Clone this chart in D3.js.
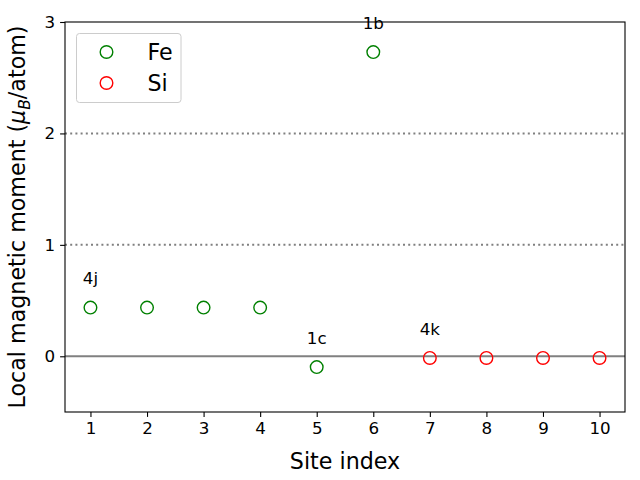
<!DOCTYPE html>
<html>
<head>
<meta charset="utf-8">
<script src="https://cdn.jsdelivr.net/npm/d3@7"></script>
<style>
body{margin:0;background:#fff;}
text{font-family:"DejaVu Sans",sans-serif;}
</style>
</head>
<body>
<div id="chart"></div>
<script>
// data
var feSites = [1, 2, 3, 4, 5, 6];
var feMoments = [0.437, 0.437, 0.437, 0.437, -0.097, 2.73];
var siSites = [7, 8, 9, 10];
var siMoments = [-0.015, -0.015, -0.015, -0.015];
var labelText = ["4j", "1c", "1b", "4k"];
var labelSite = [1, 5, 6, 7];
var labelValue = [0.437, -0.097, 2.73, -0.015];
var xTicks = [1, 2, 3, 4, 5, 6, 7, 8, 9, 10];
var yTicks = [0, 1, 2, 3];
var refLines = [1, 2];

var W = 640, H = 480;
var margin = {top: 22, right: 15, bottom: 68, left: 65};
var width = W - margin.left - margin.right,
    height = H - margin.top - margin.bottom;

var x = d3.scaleLinear().domain([0.55, 10.45]).range([0, width]);
var y = d3.scaleLinear().domain([-0.5, 3]).range([height, 0]);

var svg = d3.select("#chart").append("svg")
    .attr("width", W).attr("height", H)
  .append("g")
    .attr("transform", "translate(" + margin.left + "," + margin.top + ")");

// dotted reference lines
svg.selectAll(".ref").data(refLines).enter().append("line")
    .attr("x1", 0).attr("x2", width)
    .attr("y1", function(d){ return y(d); })
    .attr("y2", function(d){ return y(d); })
    .attr("stroke", "#808080").attr("stroke-width", 2)
    .attr("stroke-dasharray", "2,3.2");

// zero line
svg.append("line")
    .attr("x1", 0).attr("x2", width)
    .attr("y1", y(0)).attr("y2", y(0))
    .attr("stroke", "#808080").attr("stroke-width", 2);

// points
var fe = feSites.map(function(s, i){ return {s: s, v: feMoments[i]}; });
var si = siSites.map(function(s, i){ return {s: s, v: siMoments[i]}; });

svg.selectAll(".fe").data(fe).enter().append("circle")
    .attr("class", "fe")
    .attr("cx", function(d){ return x(d.s); })
    .attr("cy", function(d){ return y(d.v); })
    .attr("r", 6.3)
    .attr("fill", "none").attr("stroke", "green").attr("stroke-width", 1.4);

svg.selectAll(".si").data(si).enter().append("circle")
    .attr("class", "si")
    .attr("cx", function(d){ return x(d.s); })
    .attr("cy", function(d){ return y(d.v); })
    .attr("r", 6.3)
    .attr("fill", "none").attr("stroke", "red").attr("stroke-width", 1.4);

// site labels
svg.selectAll(".lab").data(labelText).enter().append("text")
    .attr("x", function(d, i){ return x(labelSite[i]); })
    .attr("y", function(d, i){ return y(labelValue[i] + 0.2) - 1; })
    .attr("text-anchor", "middle")
    .style("font-size", "16.7px")
    .text(function(d){ return d; });

// axes
var xAxis = svg.append("g")
    .attr("transform", "translate(0," + height + ")")
    .call(d3.axisBottom(x).tickValues(xTicks).tickSize(4.9).tickPadding(5).tickFormat(d3.format("d")));
var yAxis = svg.append("g")
    .call(d3.axisLeft(y).tickValues(yTicks).tickSize(4.9).tickPadding(5).tickFormat(d3.format("d")));
[xAxis, yAxis].forEach(function(a){
  a.select(".domain").remove();
  a.selectAll("line").attr("stroke", "#000").attr("stroke-width", 1.1);
  a.selectAll("text").style("font-size", "16.7px").style("font-family", "DejaVu Sans").attr("fill", "#000");
});

// frame
svg.append("rect")
    .attr("width", width).attr("height", height)
    .attr("fill", "none").attr("stroke", "#000").attr("stroke-width", 1.1);

// axis labels
svg.append("text")
    .attr("x", width / 2).attr("y", height + 57)
    .attr("text-anchor", "middle")
    .style("font-size", "22.2px")
    .text("Site index");

var yl = svg.append("text")
    .attr("transform", "translate(" + (-40) + "," + (height / 2) + ") rotate(-90)")
    .attr("text-anchor", "middle")
    .style("font-size", "22.2px");
yl.append("tspan").text("Local magnetic moment (");
yl.append("tspan").style("font-style", "italic").text("μ");
yl.append("tspan").style("font-style", "italic").style("font-size", "15.5px").attr("dy", 5).text("B");
yl.append("tspan").attr("dy", -5).text("/atom)");

// legend
var lg = svg.append("g").attr("transform", "translate(11.5,11.5)");
lg.append("rect")
    .attr("width", 104.5).attr("height", 69)
    .attr("rx", 3)
    .attr("fill", "#fff").attr("fill-opacity", 0.8)
    .attr("stroke", "#cccccc").attr("stroke-width", 1);
var legItems = [{name: "Fe", color: "green"}, {name: "Si", color: "red"}];
legItems.forEach(function(d, i){
  var yy = 18.5 + i * 31;
  lg.append("circle").attr("cx", 30).attr("cy", yy).attr("r", 6.3)
    .attr("fill", "none").attr("stroke", d.color).attr("stroke-width", 1.4);
  lg.append("text").attr("x", 71).attr("y", yy + 8)
    .style("font-size", "22.2px").text(d.name);
});
</script>
</body>
</html>
